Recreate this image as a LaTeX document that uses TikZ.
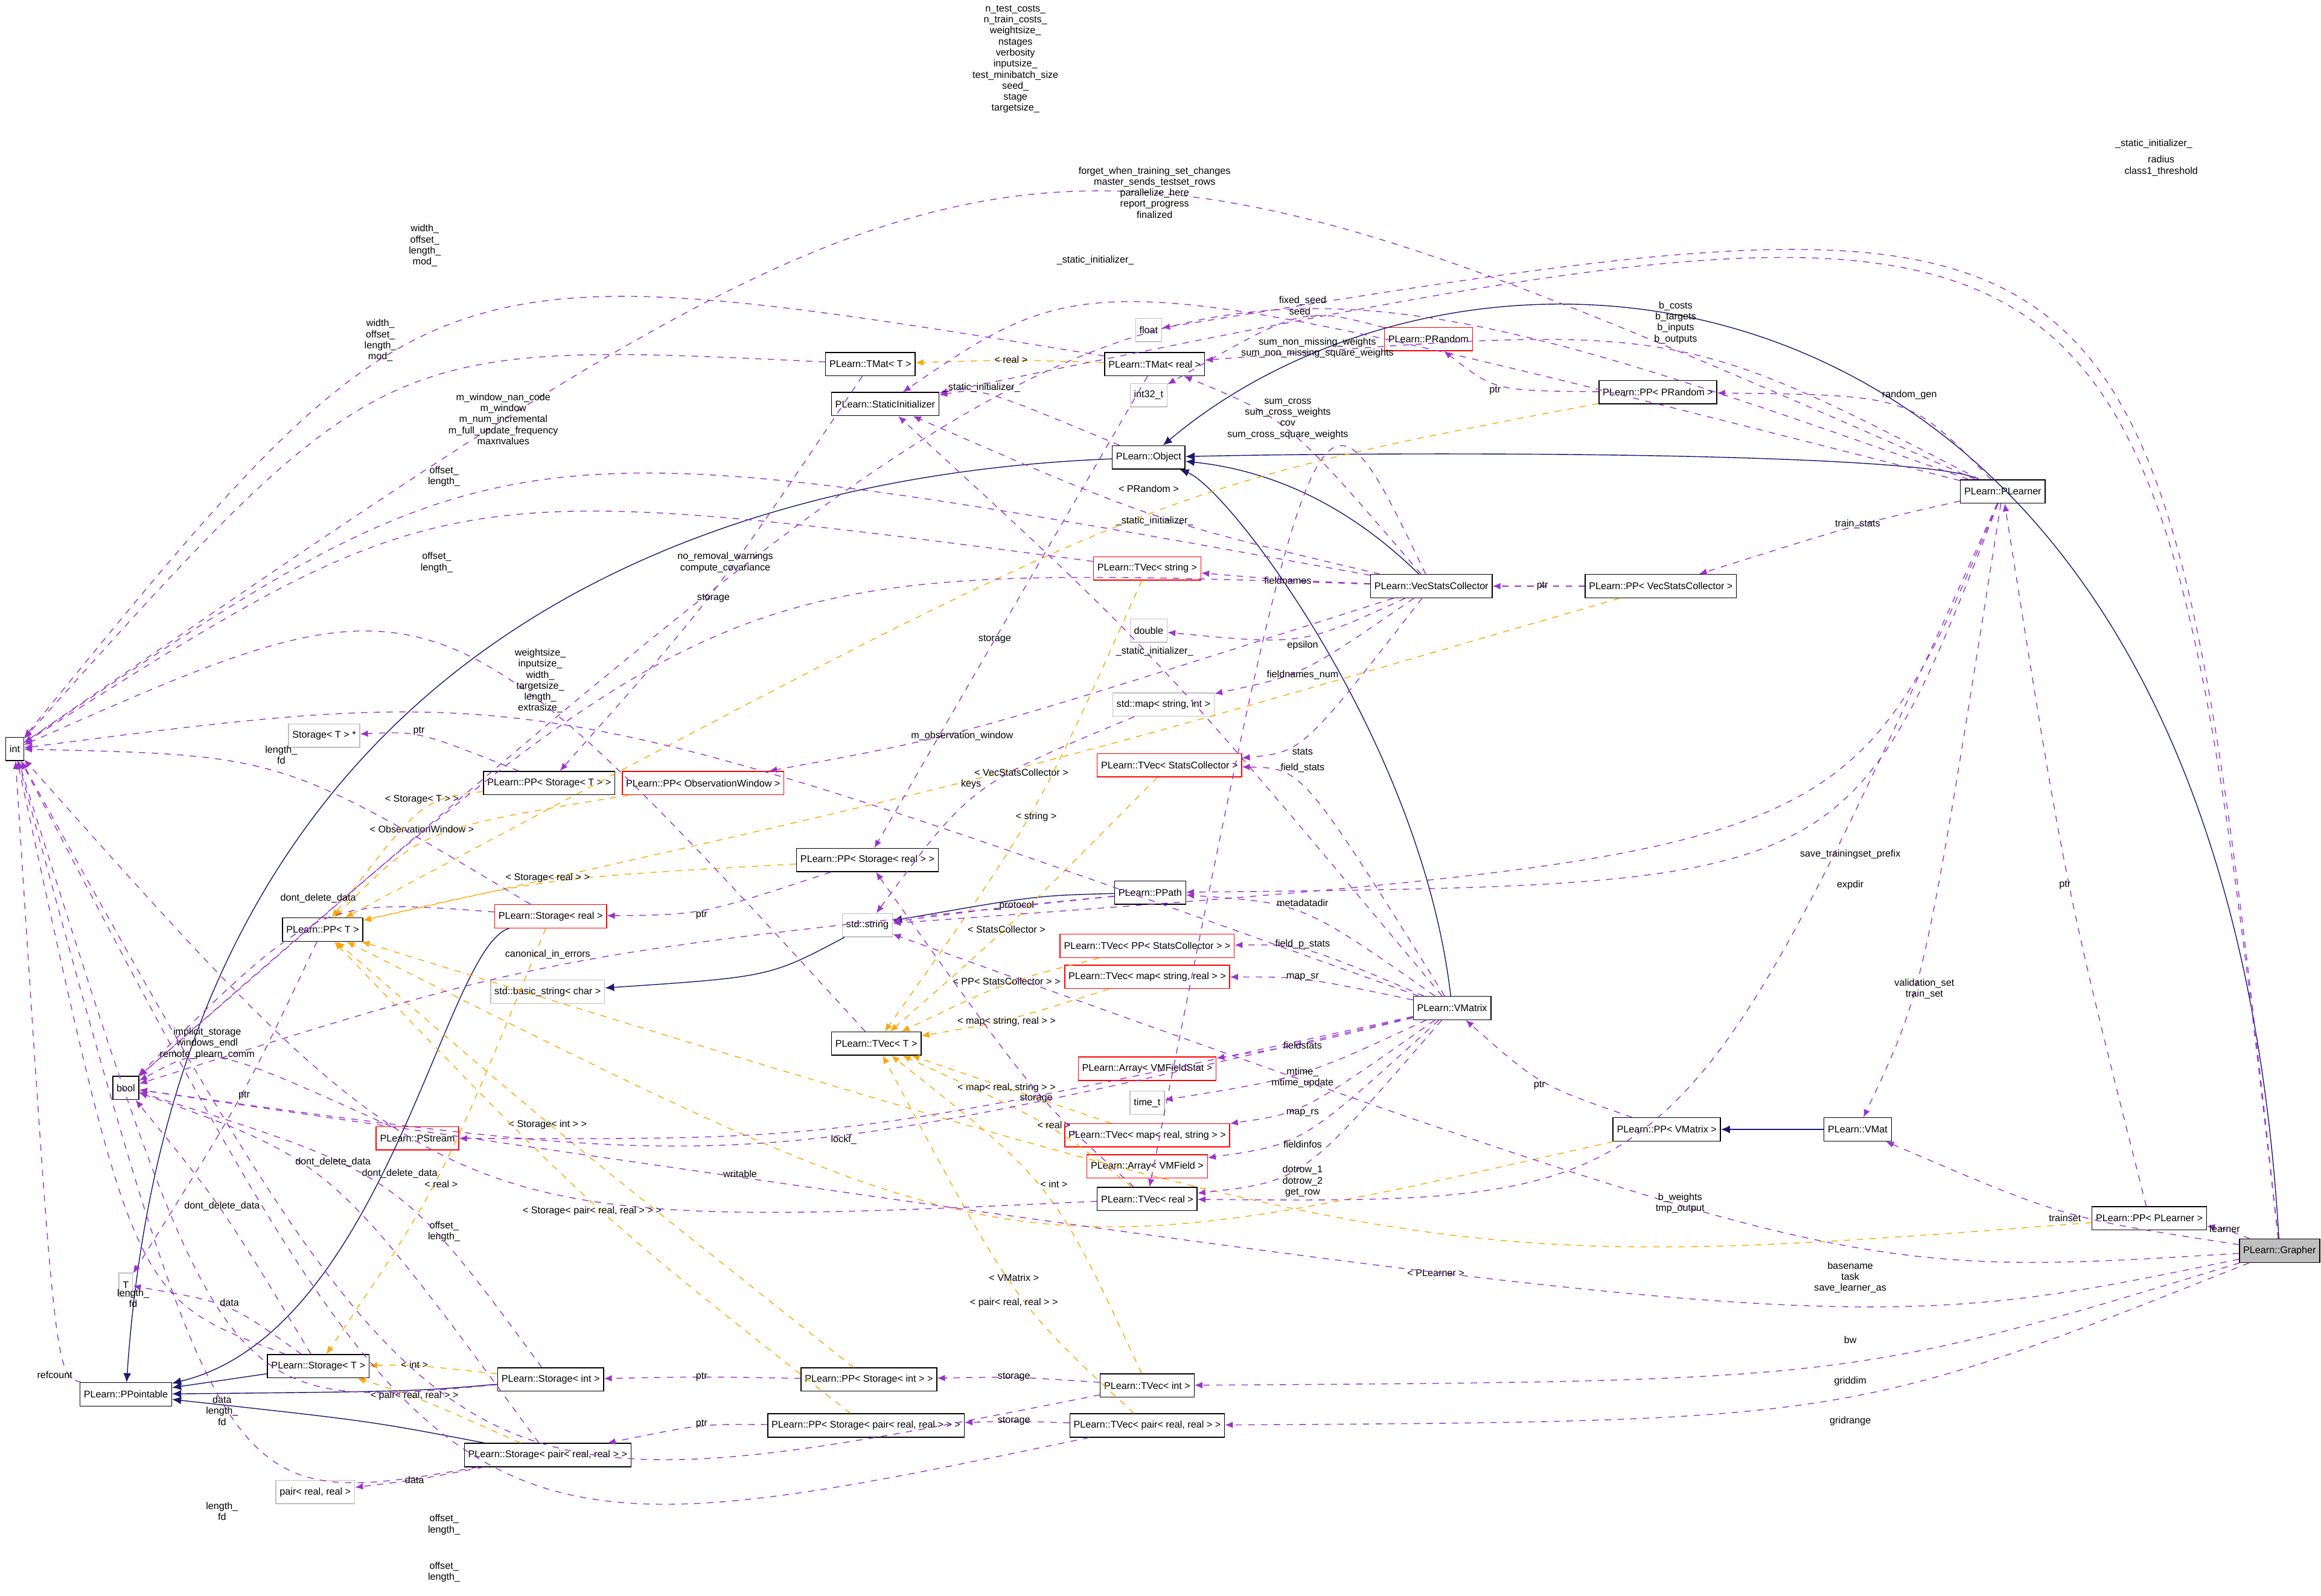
\documentclass[tikz,border=0pt]{standalone}
\usepackage{fontspec}
\setmainfont{Liberation Sans}
\usetikzlibrary{arrows.meta,positioning}
\definecolor{usecol}{RGB}{154,50,205}
\definecolor{tplcol}{RGB}{255,165,0}
\definecolor{inhcol}{RGB}{25,25,112}
\definecolor{graycol}{RGB}{191,191,191}
\tikzset{
  cls/.style={draw=black, font=\fontsize{4.6}{5.5}\selectfont, inner sep=1.8pt, minimum height=11},
  undoc/.style={cls, draw=red},
  ext/.style={cls, draw=graycol},
  lbl/.style={font=\fontsize{4.6}{5.2}\selectfont, align=center, inner sep=0.5pt},
  use/.style={usecol, dashed, thin, -{Latex[length=1.3mm,width=1.1mm]}},
  tpl/.style={tplcol, dashed, thin, -{Latex[length=1.3mm,width=1.1mm]}},
  inh/.style={inhcol, thin, -{Latex[length=1.5mm,width=1.3mm]}}
}
\newcommand\uses[5][use]{\draw[#1] (#2) .. controls (#4) and (#4) .. (#3); \node[lbl] at (#4) {#5};}
\begin{document}
\begin{tikzpicture}[x=0.02452cm, y=-0.02452cm]
\useasboundingbox (0,0) rectangle (1568,1078);
% classes
\node[cls] (int) at (10,506) {int};
\node[cls] (bool) at (85,735) {bool};
\node[ext] (T) at (85,868) {T};
\node[cls] (ppointable) at (85,942) {PLearn::PPointable};
\node[cls] (storT) at (215,923) {PLearn::Storage< T >};
\node[cls] (storint) at (372,932) {PLearn::Storage< int >};
\node[cls] (storpair) at (370,983) {PLearn::Storage< pair< real, real > >};
\node[ext] (pair) at (213,1008) {pair< real, real >};
\node[undoc] (pstream) at (282,769) {PLearn::PStream};
\node[cls] (ppT) at (218,628) {PLearn::PP< T >};
\node[ext] (bstring) at (370,670) {std::basic\_string< char >};
\node[undoc] (storreal) at (372,619) {PLearn::Storage< real >};
\node[undoc] (ppobs) at (475,529) {PLearn::PP< ObservationWindow >};
\node[cls] (ppstorT) at (371,529) {PLearn::PP< Storage< T > >};
\node[ext] (storTptr) at (219,497) {Storage< T > *};
\node[cls] (tmatT) at (588,246) {PLearn::TMat< T >};
\node[cls] (statinit) at (598,273) {PLearn::StaticInitializer};
\node[cls] (tmatreal) at (780,246) {PLearn::TMat< real >};
\node[ext] (float) at (776,223) {float};
\node[ext] (int32) at (776,267) {int32\_t};
\node[cls] (object) at (776,309) {PLearn::Object};
\node[undoc] (prandom) at (965,229) {PLearn::PRandom};
\node[cls] (pprandom) at (1120,265) {PLearn::PP< PRandom >};
\node[undoc] (tvecstring) at (775,384) {PLearn::TVec< string >};
\node[ext] (double) at (776,426) {double};
\node[ext] (mapsi) at (786,476) {std::map< string, int >};
\node[undoc] (tvecsc) at (790,517) {PLearn::TVec< StatsCollector >};
\node[cls] (vsc) at (967,396) {PLearn::VecStatsCollector};
\node[cls] (ppvsc) at (1122,396) {PLearn::PP< VecStatsCollector >};
\node[cls] (plearner) at (1353,332) {PLearn::PLearner};
\node[cls] (ppstorreal) at (586,581) {PLearn::PP< Storage< real > >};
\node[cls] (ppath) at (777,603) {PLearn::PPath};
\node[ext] (string) at (586,625) {std::string};
\node[undoc] (tvecppsc) at (775,639) {PLearn::TVec< PP< StatsCollector > >};
\node[undoc] (tvecmapsr) at (775,660) {PLearn::TVec< map< string, real > >};
\node[cls] (tvecT) at (592,705) {PLearn::TVec< T >};
\node[undoc] (arrfs) at (775,722) {PLearn::Array< VMFieldStat >};
\node[ext] (timet) at (775,745) {time\_t};
\node[undoc] (tvecmaprs) at (775,767) {PLearn::TVec< map< real, string > >};
\node[undoc] (arrvmf) at (775,788) {PLearn::Array< VMField >};
\node[cls] (tvecreal) at (775,810) {PLearn::TVec< real >};
\node[cls] (vmatrix) at (981,681) {PLearn::VMatrix};
\node[cls] (ppvmatrix) at (1126,763) {PLearn::PP< VMatrix >};
\node[cls] (vmat) at (1255,763) {PLearn::VMat};
\node[cls] (ppplearner) at (1452,823) {PLearn::PP< PLearner >};
\node[cls, fill=graycol] (grapher) at (1540,845) {PLearn::Grapher};
\node[cls] (ppstorint) at (587,932) {PLearn::PP< Storage< int > >};
\node[cls] (tvecint) at (775,936) {PLearn::TVec< int >};
\node[cls] (ppstorpair) at (585,963) {PLearn::PP< Storage< pair< real, real > > >};
\node[cls] (tvecpair) at (775,963) {PLearn::TVec< pair< real, real > >};

% inheritance
\draw[inh] (grapher) .. controls (1500,150) and (1000,120) .. (object);
\draw[inh] (plearner) .. controls (1300,305) and (950,305) .. (object);
\draw[inh] (vsc) .. controls (930,360) and (880,320) .. (object);
\draw[inh] (vmatrix) .. controls (960,500) and (830,330) .. (object);
\draw[inh] (object) .. controls (500,320) and (120,420) .. (ppointable);
\draw[inh] (storT) -- (ppointable);
\draw[inh] (storint) .. controls (280,940) .. (ppointable);
\draw[inh] (storpair) .. controls (250,960) .. (ppointable);
\draw[inh] (storreal) .. controls (300,640) and (260,900) .. (ppointable);
\draw[inh] (ppath) .. controls (700,605) .. (string);
\draw[inh] (string) .. controls (520,660) .. (bstring);
\draw[inh] (vmat) -- (ppvmatrix);

% template instances
\uses[tpl]{tmatreal}{tmatT}{683,243}{< real >}
\uses[tpl]{pprandom}{ppT}{776,330}{< PRandom >}
\uses[tpl]{ppvsc}{ppT}{690,522}{< VecStatsCollector >}
\uses[tpl]{ppobs}{ppT}{285,560}{< ObservationWindow >}
\uses[tpl]{ppstorT}{ppT}{285,540}{< Storage< T > >}
\uses[tpl]{ppstorreal}{ppT}{370,593}{< Storage< real > >}
\uses[tpl]{tvecstring}{tvecT}{700,552}{< string >}
\uses[tpl]{tvecsc}{tvecT}{680,628}{< StatsCollector >}
\uses[tpl]{tvecppsc}{tvecT}{680,663}{< PP< StatsCollector > >}
\uses[tpl]{tvecmapsr}{tvecT}{680,690}{< map< string, real > >}
\uses[tpl]{tvecmaprs}{tvecT}{680,735}{< map< real, string > >}
\uses[tpl]{tvecreal}{tvecT}{712,760}{< real >}
\uses[tpl]{tvecint}{tvecT}{712,800}{< int >}
\uses[tpl]{tvecpair}{tvecT}{685,880}{< pair< real, real > >}
\uses[tpl]{ppvmatrix}{ppT}{685,863}{< VMatrix >}
\uses[tpl]{ppplearner}{ppT}{970,860}{< PLearner >}
\uses[tpl]{ppstorint}{ppT}{370,760}{< Storage< int > >}
\uses[tpl]{ppstorpair}{ppT}{400,818}{< Storage< pair< real, real > > >}
\uses[tpl]{storreal}{storT}{298,800}{< real >}
\uses[tpl]{storint}{storT}{280,922}{< int >}
\uses[tpl]{storpair}{storT}{280,943}{< pair< real, real > >}

% Grapher members
\uses{grapher}{ppplearner}{1503,830}{learner}
\uses{grapher}{vmat}{1395,823}{trainset}
\uses{grapher}{tvecint}{1250,933}{griddim}
\uses{grapher}{tvecpair}{1250,960}{gridrange}
\uses{grapher}{statinit}{1455,97}{\_static\_initializer\_}
\uses{grapher}{float}{1460,112}{radius\\class1\_threshold}
\uses{grapher}{string}{1250,863}{basename\\task\\save\_learner\_as}
\uses{grapher}{bool}{1250,905}{bw}

% PLearner members
\uses{plearner}{int}{686,40}{n\_test\_costs\_\\n\_train\_costs\_\\weightsize\_\\nstages\\verbosity\\inputsize\_\\test\_minibatch\_size\\seed\_\\stage\\targetsize\_}
\uses{plearner}{bool}{780,130}{forget\_when\_training\_set\_changes\\master\_sends\_testset\_rows\\parallelize\_here\\report\_progress\\finalized}
\uses{plearner}{statinit}{740,176}{\_static\_initializer\_}
\uses{plearner}{pprandom}{1290,267}{random\_gen}
\uses{plearner}{ppvsc}{1255,354}{train\_stats}
\uses{plearner}{ppath}{1250,598}{expdir}
\uses{plearner}{string}{1250,577}{save\_trainingset\_prefix}
\uses{plearner}{vmat}{1300,668}{validation\_set\\train\_set}
\uses{plearner}{tvecreal}{1135,813}{b\_weights\\tmp\_output}
\uses{plearner}{tmatreal}{1132,218}{b\_costs\\b\_targets\\b\_inputs\\b\_outputs}

% pointer members
\uses{ppplearner}{plearner}{1395,598}{ptr}
\uses{pprandom}{prandom}{1010,264}{ptr}
\uses{prandom}{int32}{880,207}{fixed\_seed\\seed\_}
\uses{ppvmatrix}{vmatrix}{1040,733}{ptr}
\uses{ppvsc}{vsc}{1042,396}{ptr}
\uses{ppstorreal}{storreal}{474,618}{ptr}
\uses{ppstorT}{storTptr}{283,494}{ptr}
\uses{ppstorint}{storint}{474,930}{ptr}
\uses{ppstorpair}{storpair}{474,962}{ptr}
\uses{ppT}{T}{165,740}{ptr}

% vector and matrix members
\uses{tvecint}{ppstorint}{685,930}{storage}
\uses{tvecpair}{ppstorpair}{685,960}{storage}
\uses{tvecreal}{ppstorreal}{700,742}{storage}
\uses{tmatreal}{ppstorreal}{672,432}{storage}
\uses{tmatT}{ppstorT}{482,404}{storage}
\uses{tmatT}{int}{257,230}{width\_\\offset\_\\length\_\\mod\_}
\uses{tmatreal}{int}{287,166}{width\_\\offset\_\\length\_\\mod\_}
\uses{tvecT}{int}{295,380}{offset\_\\length\_}
\uses{tvecstring}{int}{300,322}{offset\_\\length\_}
\uses{tvecreal}{int}{300,832}{offset\_\\length\_}
\uses{tvecint}{int}{300,1030}{offset\_\\length\_}
\uses{tvecpair}{int}{300,1062}{offset\_\\length\_}

% storage members
\uses{storT}{int}{90,877}{length\_\\fd}
\uses{storreal}{int}{190,510}{length\_\\fd}
\uses{storpair}{int}{150,1021}{length\_\\fd}
\uses{storint}{int}{150,953}{data\\length\_\\fd}
\uses{ppointable}{int}{37,929}{refcount}
\uses{storT}{T}{155,880}{data}
\uses{storpair}{pair}{280,1000}{data}
\uses{storT}{bool}{150,815}{dont\_delete\_data}
\uses{storreal}{bool}{215,607}{dont\_delete\_data}
\uses{storint}{bool}{270,793}{dont\_delete\_data}
\uses{storpair}{bool}{225,785}{dont\_delete\_data}
\uses{pstream}{bool}{140,705}{implicit\_storage\\windows\_endl\\remote\_plearn\_comm}
\uses{ppath}{string}{685,612}{\_protocol}
\uses{ppath}{bool}{370,645}{canonical\_in\_errors}
\uses{object}{statinit}{663,262}{\_static\_initializer\_}

% VecStatsCollector members
\uses{vsc}{statinit}{780,352}{\_static\_initializer\_}
\uses{vsc}{tvecstring}{870,392}{fieldnames}
\uses{vsc}{double}{880,436}{epsilon}
\uses{vsc}{mapsi}{880,456}{fieldnames\_num}
\uses{vsc}{tvecsc}{880,508}{stats}
\uses{vsc}{int}{340,283}{m\_window\_nan\_code\\m\_window\\m\_num\_incremental\\m\_full\_update\_frequency\\maxnvalues}
\uses{vsc}{bool}{490,380}{no\_removal\_warnings\\compute\_covariance}
\uses{vsc}{ppobs}{650,497}{m\_observation\_window}
\uses{vsc}{tvecreal}{890,235}{sum\_non\_missing\_weights\\sum\_non\_missing\_square\_weights}
\uses{vsc}{tmatreal}{870,283}{sum\_cross\\sum\_cross\_weights\\cov\\sum\_cross\_square\_weights}
\uses{mapsi}{string}{656,530}{keys}

% VMatrix members
\uses{vmatrix}{statinit}{780,440}{\_static\_initializer\_}
\uses{vmatrix}{int}{365,460}{weightsize\_\\inputsize\_\\width\_\\targetsize\_\\length\_\\extrasize\_}
\uses{vmatrix}{tvecsc}{880,519}{field\_stats}
\uses{vmatrix}{ppath}{880,610}{metadatadir}
\uses{vmatrix}{tvecppsc}{880,638}{field\_p\_stats}
\uses{vmatrix}{tvecmapsr}{880,660}{map\_sr}
\uses{vmatrix}{arrfs}{880,706}{fieldstats}
\uses{vmatrix}{timet}{880,728}{mtime\_\\mtime\_update}
\uses{vmatrix}{tvecmaprs}{880,752}{map\_rs}
\uses{vmatrix}{arrvmf}{880,773}{fieldinfos}
\uses{vmatrix}{tvecreal}{880,798}{dotrow\_1\\dotrow\_2\\get\_row}
\uses{vmatrix}{pstream}{570,770}{lockf\_}
\uses{vmatrix}{bool}{500,793}{writable}
\end{tikzpicture}
\end{document}
